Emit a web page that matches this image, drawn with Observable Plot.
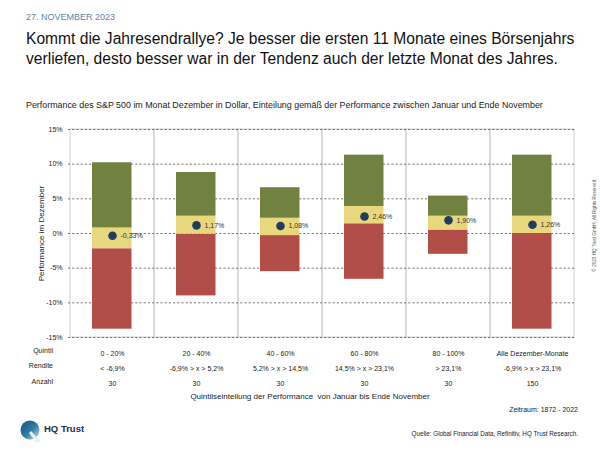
<!DOCTYPE html>
<html>
<head>
<meta charset="utf-8">
<script src="https://cdn.jsdelivr.net/npm/d3@7"></script>
<script src="https://cdn.jsdelivr.net/npm/@observablehq/plot@0.6"></script>
<style>
  html, body { margin: 0; padding: 0; background: #fff; }
  body { font-family: "Liberation Sans", Arial, sans-serif; }
  #wrap { position: relative; width: 600px; height: 450px; overflow: hidden; }
  #chart { position: absolute; left: 0; top: 0; }
  .t { position: absolute; white-space: nowrap; color: #222; }
</style>
</head>
<body>
<div id="wrap">
  <div id="chart"></div>
  <div class="t" style="left:26px;top:12px;font-size:9px;color:#5a86ad;">27. NOVEMBER 2023</div>
  <div class="t" style="left:26px;top:29px;font-size:15.6px;line-height:19.5px;color:#111;">Kommt die Jahresendrallye? Je besser die ersten 11 Monate eines Börsenjahrs<br>verliefen, desto besser war in der Tendenz auch der letzte Monat des Jahres.</div>
  <div class="t" style="left:26px;top:100px;font-size:8.9px;color:#222;">Performance des S&amp;P 500 im Monat Dezember in Dollar, Einteilung gemäß der Performance zwischen Januar und Ende November</div>
  <div class="t" id="rowlabels" style="right:547px;top:343px;font-size:7px;line-height:15.4px;text-align:right;color:#222;">Quintil<br>Rendite<br>Anzahl</div>
  <div class="t" style="left:0;width:620px;text-align:center;top:392px;font-size:8px;color:#222;">Quintilseinteilung der Performance&nbsp; von Januar bis Ende November</div>
  <div class="t" style="right:22px;top:406px;font-size:7px;color:#222;">Zeitraum: 1872 - 2022</div>
  <div class="t" style="right:22px;top:430px;font-size:6.3px;color:#222;">Quelle: Global Financial Data, Refinitiv, HQ Trust Research.</div>
  <div class="t" style="left:594px;top:225px;font-size:4.6px;color:#555;transform:translate(-50%,-50%) rotate(-90deg);">© 2023 HQ Trust GmbH. All Rights Reserved.</div>
  <svg class="t" style="left:18px;top:418px;" width="30" height="26" viewBox="0 0 30 26">
    <defs>
      <linearGradient id="lg" x1="0" y1="0" x2="1" y2="1">
        <stop offset="0" stop-color="#1c4f7e"/>
        <stop offset="0.55" stop-color="#2f7fa6"/>
        <stop offset="1" stop-color="#cfe8ef"/>
      </linearGradient>
    </defs>
    <circle cx="12" cy="12" r="9.5" fill="url(#lg)"/>
    <path d="M13 13 L23 24 L18 24 L11 15 Z" fill="#e6f2f5"/>
  </svg>
  <div class="t" style="left:44px;top:423px;font-size:9.5px;font-weight:bold;color:#1a2f4a;">HQ Trust</div>
</div>
<script>
const categories = ["0 - 20%", "20 - 40%", "40 - 60%", "60 - 80%", "80 - 100%", "Alle Dezember-Monate"];
const rendite = ["< -6,9%", "-6,9% > x > 5,2%", "5,2% > x > 14,5%", "14,5% > x > 23,1%", "> 23,1%", "-6,9% > x > 23,1%"];
const anzahl = ["30", "30", "30", "30", "30", "150"];
const maxValues = [10.2, 8.8, 6.6, 11.3, 5.4, 11.3];
const upperValues = [0.8, 2.5, 2.2, 3.9, 2.5, 2.5];
const lowerValues = [-2.2, -0.1, -0.3, 1.4, 0.5, 0.0];
const minValues = [-13.8, -9.0, -5.5, -6.6, -3.0, -13.8];
const meanValues = [-0.33, 1.17, 1.08, 2.46, 1.90, 1.26];
const yTicks = [-15, -10, -5, 0, 5, 10, 15];

const rows = categories.map((c, i) => ({
  cat: c, max: maxValues[i], upper: upperValues[i], lower: lowerValues[i],
  min: minValues[i], mean: meanValues[i]
}));
const tickText = new Map(categories.map((c, i) => [c, c + "\n" + rendite[i] + "\n" + anzahl[i]]));
const fmt = v => v.toFixed(2).replace(".", ",") + "%";

const side = { insetLeft: 22, insetRight: 22.5 };
const plot = Plot.plot({
  width: 600,
  height: 450,
  marginTop: 129,
  marginBottom: 113,
  marginLeft: 68,
  marginRight: 25,
  style: { fontFamily: "Liberation Sans, Arial, sans-serif", background: "transparent" },
  x: { domain: categories, padding: 0 },
  y: { domain: [-15, 15] },
  marks: [
    Plot.rect(rows, { x: "cat", y1: -15, y2: 15, fill: "none", stroke: "#c4c4c4", strokeWidth: 0.8 }),
    Plot.ruleY(yTicks, { stroke: "#555", strokeWidth: 0.8, strokeDasharray: "2.2,2" }),
    Plot.barY(rows, { x: "cat", y1: "min", y2: "lower", fill: "#b34d48", ...side }),
    Plot.barY(rows, { x: "cat", y1: "lower", y2: "upper", fill: "#e8d77d", ...side }),
    Plot.barY(rows, { x: "cat", y1: "upper", y2: "max", fill: "#718240", ...side }),
    Plot.dot(rows, { x: "cat", y: "mean", r: 4.3, fill: "#1f3d5e" }),
    Plot.text(rows, { x: "cat", y: "mean", text: d => fmt(d.mean), dx: 8, textAnchor: "start", fontSize: 7, fill: "#333" }),
    Plot.axisY({ ticks: yTicks, tickFormat: d => d + "%", tickSize: 0, tickPadding: 6, fontSize: 7, color: "#222",
      label: "Performance im Dezember", labelAnchor: "center", labelArrow: "none", labelOffset: 30 }),
    Plot.axisX({ tickFormat: d => tickText.get(d), tickSize: 0, tickPadding: 8, fontSize: 7, lineHeight: 2.15, color: "#222", label: null })
  ]
});
plot.querySelectorAll("g[aria-label='y-axis label'] text").forEach(t => t.setAttribute("font-size", "8"));
document.getElementById("chart").appendChild(plot);
</script>
</body>
</html>
